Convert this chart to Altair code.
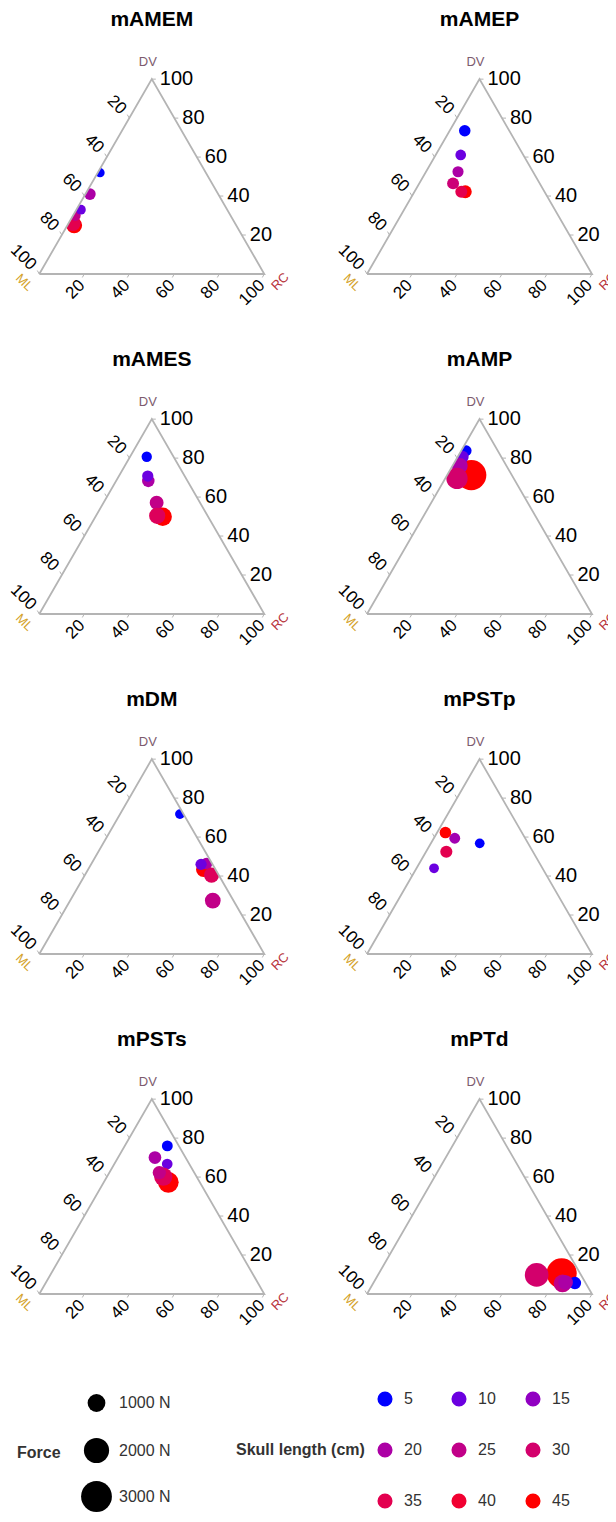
import math
import altair as alt
import pandas as pd

# ---------------- data ----------------
MUSCLES = ["mAMEM", "mAMEP", "mAMES", "mAMP", "mDM", "mPSTp", "mPSTs", "mPTd"]

# one entry per muscle (draw order inside each muscle is the list order)
ML_BY_M = {
    "mAMEM": [72, 72, 69, 65, 57, 47],
    "mAMEP": [19.8, 27.8, 33.3, 38.5, 35.2, 37.0],
    "mAMES": [11.9, 17.4, 16.4, 19.3, 20.2, 22.4],
    "mAMP": [18.0, 14.0, 17.3, 20.8, 25.2],
    "mDM": [5.3, 2.5, 3.2, 5.1, 1.6, 9.2],
    "mPSTp": [21.5, 48.2, 31.3, 38.5, 34.0],
    "mPSTs": [5.1, 13.6, 9.8, 14.0, 14.8, 15.5],
    "mPTd": [8.2, 4.8, 10.4, 8.8, 19.7],
}
DV_BY_M = {
    "mAMEM": [25, 26, 30, 33, 41, 52],
    "mAMEP": [73.5, 61.1, 52.5, 46.5, 42.2, 42.2],
    "mAMES": [80.7, 68.3, 70.8, 57.1, 49.9, 50.4],
    "mAMP": [71.3, 83.8, 80.6, 76.0, 69.6],
    "mDM": [43.4, 46.4, 40.5, 46.0, 71.8, 27.4],
    "mPSTp": [56.8, 44.0, 59.4, 52.5, 62.3],
    "mPSTs": [76.0, 70.0, 66.7, 57.3, 60.2, 62.3],
    "mPTd": [10.6, 5.6, 5.4, 5.9, 9.8],
}
RC_BY_M = {
    "mAMEM": [3, 2, 1, 2, 2, 1],
    "mAMEP": [6.7, 11.1, 14.2, 15.0, 22.6, 20.8],
    "mAMES": [7.4, 14.3, 12.8, 23.6, 29.9, 27.2],
    "mAMP": [10.7, 2.2, 2.1, 3.2, 5.2],
    "mDM": [51.3, 51.1, 56.3, 48.9, 26.6, 63.4],
    "mPSTp": [21.7, 7.8, 9.3, 9.0, 3.7],
    "mPSTs": [18.9, 16.4, 23.5, 28.7, 25.0, 22.2],
    "mPTd": [81.2, 89.6, 84.2, 85.3, 70.5],
}
SKULL_BY_M = {
    "mAMEM": [45, 35, 25, 10, 20, 5],
    "mAMEP": [5, 10, 20, 28, 45, 35],
    "mAMES": [5, 20, 10, 25, 45, 33],
    "mAMP": [45, 5, 10, 20, 30],
    "mDM": [45, 20, 33, 10, 5, 25],
    "mPSTp": [5, 10, 18, 35, 45],
    "mPSTs": [5, 20, 10, 45, 33, 25],
    "mPTd": [45, 5, 25, 20, 30],
}
FORCE_BY_M = {
    "mAMEM": [800, 720, 360, 300, 420, 270],
    "mAMEP": [420, 360, 390, 450, 520, 450],
    "mAMES": [340, 490, 400, 610, 1060, 830],
    "mAMP": [2870, 360, 490, 800, 1430],
    "mDM": [720, 420, 720, 400, 300, 780],
    "mPSTp": [300, 300, 375, 465, 420],
    "mPSTs": [375, 510, 360, 1350, 1060, 560],
    "mPTd": [2870, 490, 990, 680, 1770],
}

SKULL_BREAKS = [5, 10, 15, 20, 25, 30, 35, 40, 45]
FORCE_BREAKS = [1000, 2000, 3000]
TICK_VALUES = [20, 40, 60, 80, 100]
VERTICES = ["ML", "RC", "DV"]

# ---------------- tables ----------------
rows = []
k = 0
for m in MUSCLES:
    for ml, dv, rc, s, f in zip(ML_BY_M[m], DV_BY_M[m], RC_BY_M[m], SKULL_BY_M[m], FORCE_BY_M[m]):
        rows.append(dict(muscle=m, ML=ml, DV=dv, RC=rc, skull=s, force=f, ord=k))
        k += 1
points_df = pd.DataFrame(rows)

tick_rows = []
for v in TICK_VALUES:
    tick_rows.append(dict(axis="RC", value=v, ML=100 - v, DV=0, RC=v))
    tick_rows.append(dict(axis="ML", value=v, ML=v, DV=100 - v, RC=0))
    tick_rows.append(dict(axis="DV", value=v, ML=0, DV=v, RC=100 - v))
ticks_df = pd.DataFrame(tick_rows)

vert_comp = {"ML": (100, 0, 0), "RC": (0, 0, 100), "DV": (0, 100, 0)}
tri_df = pd.DataFrame(
    [dict(i=i, name=n, ML=vert_comp[n][0], DV=vert_comp[n][1], RC=vert_comp[n][2])
     for i, n in enumerate(VERTICES + ["ML"])]
)
vert_df = pd.DataFrame(
    [dict(name=n, ML=vert_comp[n][0], DV=vert_comp[n][1], RC=vert_comp[n][2]) for n in VERTICES]
)
title_df = pd.DataFrame([dict(muscle=m, ML=0, DV=100, RC=0) for m in MUSCLES])

# white masks outside the triangle (clip points to the simplex)
H = math.sqrt(3) / 2
FAR = 3.0
mask_df = pd.DataFrame({
    "part": ["left"] * 3 + ["right"] * 3 + ["bottom"] * 2,
    "tx": [-FAR, 0.0, 0.5, 0.5, 1.0, 1.0 + FAR, -FAR, 1.0 + FAR],
    "ty": [0.0, 0.0, H, H, 0.0, 0.0, -FAR, -FAR],
    "ty2": [FAR] * 6 + [0.0, 0.0],
})

# ---------------- layout ----------------
SIDE = 225.0
PANEL_H = 340
PANEL_W = 300
BL_X = [31.3, 59.0]          # bottom-left vertex inside each column's panel (px)
BASE_Y = 266.0               # bottom edge inside panel (px from top)
XDOM = [[-BL_X[c] / SIDE, (PANEL_W - BL_X[c]) / SIDE] for c in range(2)]
YDOM = [(BASE_Y - PANEL_H) / SIDE, BASE_Y / SIDE]
TICK_LEN = 4 / SIDE
FONT = "Liberation Sans"
EDGE = "#b4b4b4"

color_scale = alt.Scale(domain=[5, 45], range=["blue", "red"], interpolate="lab")
size_scale = alt.Scale(domain=[0, 3000], range=[0, 950])

color_legend = alt.Legend(
    title="Skull length (cm)", type="symbol", orient="none", legendX=228, legendY=1383,
    titleOrient="left", titleAnchor="middle", titleBaseline="middle",
    titleFont=FONT, titleFontSize=16, titleFontWeight="bold", titleColor="#333333", titlePadding=12,
    values=SKULL_BREAKS, columns=3, direction="horizontal",
    labelFont=FONT, labelFontSize=16, labelColor="#333333", labelOffset=11,
    symbolType="circle", symbolSize=227, symbolStrokeWidth=0, symbolOpacity=1,
    rowPadding=35, columnPadding=29, padding=0,
)
size_legend = alt.Legend(
    title="Force", orient="none", legendX=9, legendY=1386,
    titleOrient="left", titleAnchor="middle", titleBaseline="middle",
    titleFont=FONT, titleFontSize=16, titleFontWeight="bold", titleColor="#333333", titlePadding=20,
    values=FORCE_BREAKS, labelExpr="datum.value + ' N'",
    labelFont=FONT, labelFontSize=16, labelColor="#333333", labelOffset=7,
    symbolType="circle", symbolFillColor="black", symbolStrokeColor="black",
    symbolStrokeWidth=0, symbolOpacity=1, rowPadding=12.5, gridAlign="all", padding=0,
)


def tern(ch):
    return ch.transform_calculate(
        tx="(datum.RC + datum.DV / 2) / (datum.ML + datum.DV + datum.RC)",
        ty="datum.DV / (datum.ML + datum.DV + datum.RC) * sqrt(3) / 2",
    )


def panel(m, col):
    xs = alt.Scale(domain=XDOM[col], nice=False, zero=False)
    ys = alt.Scale(domain=YDOM, nice=False, zero=False)
    X = alt.X("tx:Q", scale=xs, axis=None)
    Y = alt.Y("ty:Q", scale=ys, axis=None)

    pts = tern(alt.Chart(points_df).transform_filter(alt.datum.muscle == m)).mark_circle(
        opacity=1, clip=True
    ).encode(
        x=X, y=Y,
        color=alt.Color("skull:Q", scale=color_scale, legend=color_legend),
        size=alt.Size("force:Q", scale=size_scale, legend=size_legend),
        order=alt.Order("ord:Q"),
    )

    mask = alt.Chart(mask_df).mark_area(color="white", opacity=1, clip=True).encode(
        x=X, y=Y, y2="ty2:Q", detail="part:N"
    )

    tri = tern(alt.Chart(tri_df)).mark_line(color=EDGE, strokeWidth=1.8, clip=True).encode(
        x=X, y=Y, order=alt.Order("i:Q")
    )

    tick_base = tern(alt.Chart(ticks_df)).transform_calculate(
        tx2=f"datum.tx + {TICK_LEN} * (datum.axis == 'DV' ? 1 : -0.5)",
        ty2=f"datum.ty + {TICK_LEN} * (datum.axis == 'RC' ? -0.866 : (datum.axis == 'ML' ? 0.866 : 0))",
    )
    tick_marks = tick_base.mark_rule(color=EDGE, strokeWidth=1, clip=True).encode(
        x=X, y=Y, x2="tx2:Q", y2="ty2:Q"
    )

    def tick_text(axis, size, **kw):
        return tick_base.transform_filter(alt.datum.axis == axis).mark_text(
            font=FONT, fontSize=size, color="black", baseline="middle", clip=True, **kw
        ).encode(x=X, y=Y, text=alt.Text("value:Q"))

    t_rc = tick_text("RC", 17, angle=315, align="right", dx=-7.8, dy=4.6)
    t_ml = tick_text("ML", 17, angle=45, align="right", dx=-8.8, dy=-0.5)
    t_dv = tick_text("DV", 20, angle=0, align="left", dx=8, dy=0)

    def vlabel(name, color, **kw):
        return tern(alt.Chart(vert_df).transform_filter(alt.datum.name == name)).mark_text(
            font=FONT, fontSize=13, color=color, align="center", baseline="middle", clip=True, **kw
        ).encode(x=X, y=Y, text="name:N")

    v_dv = vlabel("DV", "#7d5b6e", angle=0, dx=-4, dy=-17)
    v_ml = vlabel("ML", "#d4a229", angle=45, dx=-4.6, dy=16.6)
    v_rc = vlabel("RC", "#b8343c", angle=315, dx=5.9, dy=16.7)

    title = tern(alt.Chart(title_df).transform_filter(alt.datum.muscle == m)).mark_text(
        font=FONT, fontSize=21, fontWeight="bold", color="black", align="center",
        baseline="middle", dy=-59, clip=True
    ).encode(x=X, y=Y, text="muscle:N")

    return alt.layer(
        pts, mask, tri, tick_marks, t_rc, t_ml, t_dv, v_dv, v_ml, v_rc, title
    ).properties(width=PANEL_W, height=PANEL_H)


panels = [panel(m, i % 2) for i, m in enumerate(MUSCLES)]

chart = alt.concat(*panels, columns=2, spacing=0).properties(padding=0).configure_view(
    stroke=None
).configure_concat(spacing=0)

chart.save("out.html", embed_options={"renderer": "svg", "actions": False})
